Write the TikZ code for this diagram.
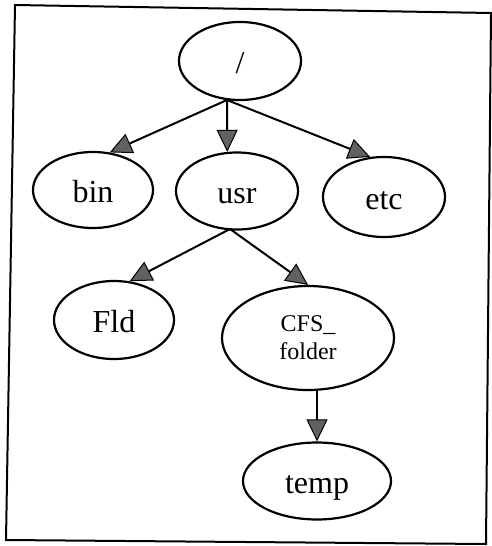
\documentclass[tikz,border=0pt]{standalone}
\usepackage{fontspec}
\setmainfont{Liberation Serif}
\usetikzlibrary{shapes.geometric,arrows.meta}
\tikzset{
  dirnode/.style={ellipse,draw=black,line width=2.2pt,inner sep=0pt,
    font=\fontsize{32}{34}\selectfont,text height=24pt,text depth=0pt},
  link/.style={draw=black,line width=2pt,
    -{Triangle[length=22pt,width=21pt,line width=1pt,fill=black!62]}},
}
\begin{document}
\begin{tikzpicture}[x=1pt,y=-1pt]
\useasboundingbox (0,0) rectangle (492,546);
% outer frame
\draw[line width=2pt] (15,5) -- (491,13) -- (486,544) -- (6,540) -- cycle;
% directory nodes
\node[dirnode,minimum width=122pt,minimum height=78pt] (root) at (240,61) {/};
\node[dirnode,minimum width=120pt,minimum height=76pt] (bin) at (93,190) {bin};
\node[dirnode,minimum width=122pt,minimum height=77pt] (usr) at (237,191) {usr};
\node[dirnode,minimum width=122pt,minimum height=80pt] (etc) at (384,197) {etc};
\node[dirnode,minimum width=120pt,minimum height=78pt] (fld) at (114,320) {Fld};
\node[dirnode,minimum width=172pt,minimum height=104pt,align=center,
  font=\fontsize{24}{28}\selectfont,text height=,text depth=] (cfs) at (308,338) {CFS\_\\folder};
\node[dirnode,minimum width=148pt,minimum height=77pt] (temp) at (317,481) {temp};
% branch points under the parents
\coordinate (rootout) at (227,100);
\coordinate (usrout) at (230,229);
% connectors
\draw[link] (rootout) -- (bin.66);
\draw[link] (rootout) -- (usr.104);
\draw[link] (rootout) -- (etc.109);
\draw[link] (usrout) -- (fld.68);
\draw[link] (usrout) -- (cfs.north);
\draw[link] (cfs.south -| temp.north) -- (temp.north);
\end{tikzpicture}
\end{document}
